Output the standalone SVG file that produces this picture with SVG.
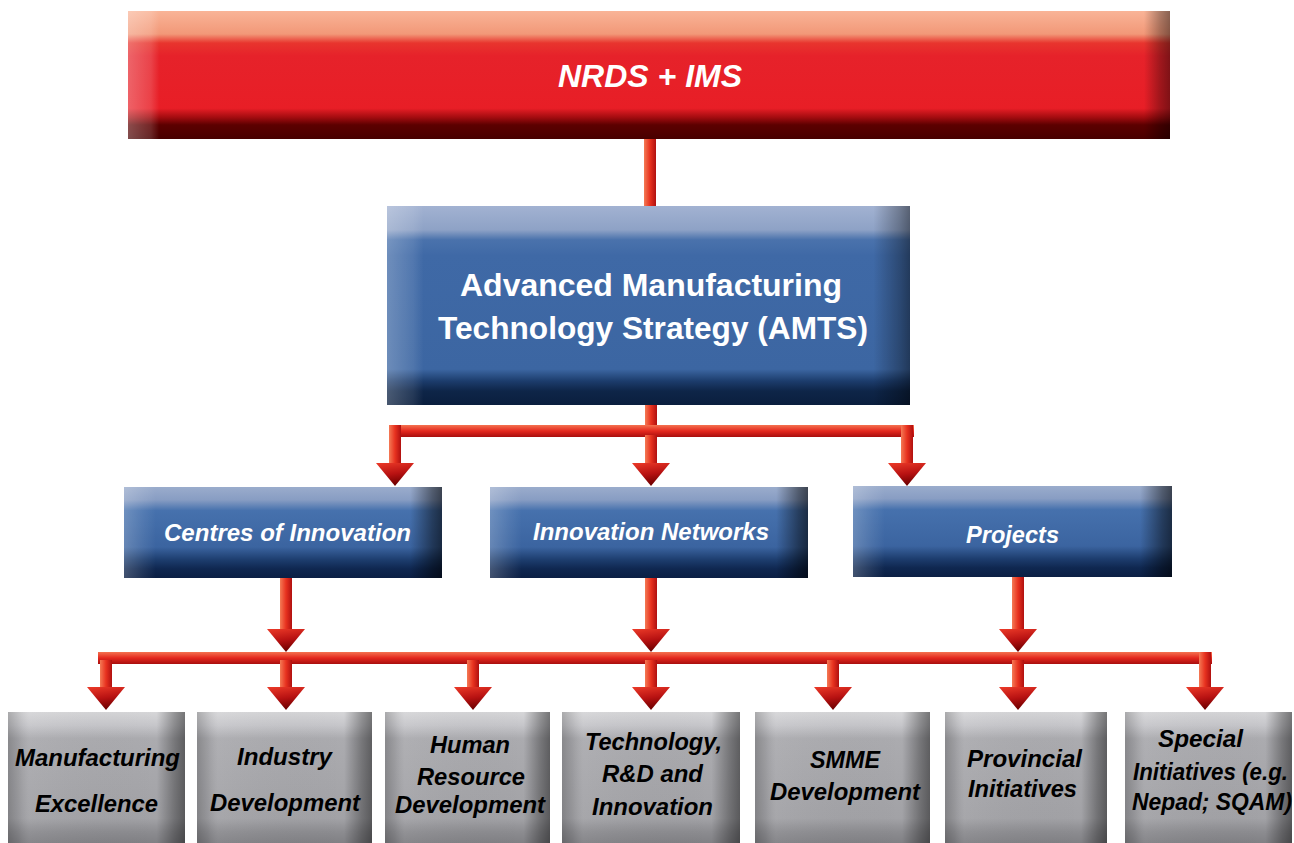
<svg xmlns="http://www.w3.org/2000/svg" xmlns:xlink="http://www.w3.org/1999/xlink" width="1294" height="843" viewBox="0 0 1294 843">
  <defs>
    <linearGradient id="redV" x1="0" y1="0" x2="0" y2="1">
      <stop offset="0" stop-color="#f9b497"/>
      <stop offset="0.18" stop-color="#f29878"/>
      <stop offset="0.25" stop-color="#e8352e"/>
      <stop offset="0.35" stop-color="#e6222a"/>
      <stop offset="0.76" stop-color="#e81e26"/>
      <stop offset="0.83" stop-color="#a40c10"/>
      <stop offset="0.89" stop-color="#5c0000"/>
      <stop offset="1" stop-color="#480000"/>
    </linearGradient>
    <linearGradient id="redH" x1="0" y1="0" x2="1" y2="0">
      <stop offset="0" stop-color="#ffffff" stop-opacity="0.3"/>
      <stop offset="0.022" stop-color="#ffffff" stop-opacity="0.15"/>
      <stop offset="0.03" stop-color="#ffffff" stop-opacity="0"/>
      <stop offset="0.975" stop-color="#000000" stop-opacity="0"/>
      <stop offset="0.99" stop-color="#000000" stop-opacity="0.3"/>
      <stop offset="1" stop-color="#000000" stop-opacity="0.45"/>
    </linearGradient>
    <linearGradient id="blueV" x1="0" y1="0" x2="0" y2="1">
      <stop offset="0" stop-color="#a2b2d2"/>
      <stop offset="0.12" stop-color="#8ea2c6"/>
      <stop offset="0.17" stop-color="#4a72ac"/>
      <stop offset="0.25" stop-color="#3f69a6"/>
      <stop offset="0.82" stop-color="#3c66a2"/>
      <stop offset="0.88" stop-color="#1c3c6c"/>
      <stop offset="0.93" stop-color="#0e2548"/>
      <stop offset="1" stop-color="#0a1e3e"/>
    </linearGradient>
    <linearGradient id="blueH" x1="0" y1="0" x2="1" y2="0">
      <stop offset="0" stop-color="#ffffff" stop-opacity="0.25"/>
      <stop offset="0.05" stop-color="#ffffff" stop-opacity="0.1"/>
      <stop offset="0.07" stop-color="#ffffff" stop-opacity="0"/>
      <stop offset="0.93" stop-color="#000000" stop-opacity="0"/>
      <stop offset="0.98" stop-color="#000000" stop-opacity="0.3"/>
      <stop offset="1" stop-color="#000000" stop-opacity="0.45"/>
    </linearGradient>
    <linearGradient id="blue2V" x1="0" y1="0" x2="0" y2="1">
      <stop offset="0" stop-color="#9aaccc"/>
      <stop offset="0.14" stop-color="#889dc3"/>
      <stop offset="0.26" stop-color="#4671ad"/>
      <stop offset="0.66" stop-color="#3b64a0"/>
      <stop offset="0.8" stop-color="#1d3d6e"/>
      <stop offset="0.9" stop-color="#0f2750"/>
      <stop offset="1" stop-color="#0b1f44"/>
    </linearGradient>
    <linearGradient id="blue2H" x1="0" y1="0" x2="1" y2="0">
      <stop offset="0" stop-color="#ffffff" stop-opacity="0.22"/>
      <stop offset="0.06" stop-color="#ffffff" stop-opacity="0.08"/>
      <stop offset="0.1" stop-color="#ffffff" stop-opacity="0"/>
      <stop offset="0.9" stop-color="#000000" stop-opacity="0"/>
      <stop offset="0.97" stop-color="#000000" stop-opacity="0.45"/>
      <stop offset="1" stop-color="#000000" stop-opacity="0.6"/>
    </linearGradient>
    <linearGradient id="greyV" x1="0" y1="0" x2="0" y2="1">
      <stop offset="0" stop-color="#d6d6d8"/>
      <stop offset="0.1" stop-color="#c6c6ca"/>
      <stop offset="0.2" stop-color="#ababaf"/>
      <stop offset="0.8" stop-color="#a2a2a6"/>
      <stop offset="0.9" stop-color="#8c8c90"/>
      <stop offset="1" stop-color="#7e7e82"/>
    </linearGradient>
    <linearGradient id="greyH" x1="0" y1="0" x2="1" y2="0">
      <stop offset="0" stop-color="#000000" stop-opacity="0.2"/>
      <stop offset="0.06" stop-color="#000000" stop-opacity="0.08"/>
      <stop offset="0.12" stop-color="#ffffff" stop-opacity="0.05"/>
      <stop offset="0.84" stop-color="#000000" stop-opacity="0"/>
      <stop offset="0.94" stop-color="#000000" stop-opacity="0.3"/>
      <stop offset="1" stop-color="#000000" stop-opacity="0.45"/>
    </linearGradient>
    <linearGradient id="barV" x1="0" y1="0" x2="1" y2="0">
      <stop offset="0" stop-color="#f47a55"/>
      <stop offset="0.5" stop-color="#e8321f"/>
      <stop offset="1" stop-color="#b01010"/>
    </linearGradient>
    <linearGradient id="barH" x1="0" y1="0" x2="0" y2="1">
      <stop offset="0" stop-color="#f47250"/>
      <stop offset="0.5" stop-color="#e4281e"/>
      <stop offset="1" stop-color="#a80e0e"/>
    </linearGradient>
    <linearGradient id="headG" x1="0" y1="0" x2="0.25" y2="1">
      <stop offset="0" stop-color="#ec3a28"/>
      <stop offset="0.55" stop-color="#b81212"/>
      <stop offset="1" stop-color="#700000"/>
    </linearGradient>
    <polygon id="head" points="-19,0 19,0 0,23" fill="url(#headG)"/>
    <style>
      .vbar { fill: url(#barV); }
      .hbar { fill: url(#barH); }
      .t { font-family: "Liberation Sans", Arial, sans-serif; font-weight: bold; text-anchor: middle; }
      .w { fill: #ffffff; }
      .k { fill: #000000; }
      .i { font-style: italic; }
    </style>
  </defs>

  <rect x="0" y="0" width="1294" height="843" fill="#ffffff"/>

  <g id="connectors">
    <rect class="vbar" x="644" y="136" width="12" height="72"/>
    <rect class="vbar" x="645" y="403" width="12" height="24"/>
    <rect class="hbar" x="389" y="425" width="525" height="12"/>
    <rect class="vbar" x="389" y="425" width="12" height="39"/>
    <rect class="vbar" x="645" y="435" width="12" height="29"/>
    <rect class="vbar" x="901" y="425" width="12" height="39"/>
    <use xlink:href="#head" x="395" y="463"/>
    <use xlink:href="#head" x="651" y="463"/>
    <use xlink:href="#head" x="907" y="463"/>

    <rect class="vbar" x="280" y="576" width="12" height="55"/>
    <rect class="vbar" x="645" y="576" width="12" height="55"/>
    <rect class="vbar" x="1012" y="576" width="12" height="55"/>
    <use xlink:href="#head" x="286" y="629"/>
    <use xlink:href="#head" x="651" y="629"/>
    <use xlink:href="#head" x="1018" y="629"/>

    <rect class="hbar" x="98" y="652" width="1114" height="12"/>
    <rect class="vbar" x="100" y="660" width="12" height="28"/>
    <rect class="vbar" x="280" y="660" width="12" height="28"/>
    <rect class="vbar" x="467" y="660" width="12" height="28"/>
    <rect class="vbar" x="645" y="660" width="12" height="28"/>
    <rect class="vbar" x="827" y="660" width="12" height="28"/>
    <rect class="vbar" x="1012" y="660" width="12" height="28"/>
    <rect class="vbar" x="1199" y="652" width="12" height="36"/>
    <use xlink:href="#head" x="106" y="687"/>
    <use xlink:href="#head" x="286" y="687"/>
    <use xlink:href="#head" x="473" y="687"/>
    <use xlink:href="#head" x="651" y="687"/>
    <use xlink:href="#head" x="833" y="687"/>
    <use xlink:href="#head" x="1018" y="687"/>
    <use xlink:href="#head" x="1205" y="687"/>
  </g>

  <g id="node-nrds">
    <rect x="128" y="11" width="1042" height="128" fill="url(#redV)"/>
    <rect x="128" y="11" width="1042" height="128" fill="url(#redH)"/>
    <text class="t w i" x="650" y="87" font-size="32">NRDS + IMS</text>
  </g>

  <g id="node-amts">
    <rect x="387" y="206" width="523" height="199" fill="url(#blueV)"/>
    <rect x="387" y="206" width="523" height="199" fill="url(#blueH)"/>
    <text class="t w" x="651" y="296" font-size="30.5" textLength="382" lengthAdjust="spacingAndGlyphs">Advanced Manufacturing</text>
    <text class="t w" x="653" y="339" font-size="30.5" textLength="430" lengthAdjust="spacingAndGlyphs">Technology Strategy (AMTS)</text>
  </g>

  <g id="node-centres">
    <rect x="124" y="487" width="318" height="91" fill="url(#blue2V)"/>
    <rect x="124" y="487" width="318" height="91" fill="url(#blue2H)"/>
    <text class="t w i" x="287.5" y="541" font-size="23" textLength="247" lengthAdjust="spacingAndGlyphs">Centres of Innovation</text>
  </g>

  <g id="node-networks">
    <rect x="490" y="487" width="318" height="91" fill="url(#blue2V)"/>
    <rect x="490" y="487" width="318" height="91" fill="url(#blue2H)"/>
    <text class="t w i" x="651" y="540" font-size="23" textLength="236" lengthAdjust="spacingAndGlyphs">Innovation Networks</text>
  </g>

  <g id="node-projects">
    <rect x="853" y="486" width="319" height="91" fill="url(#blue2V)"/>
    <rect x="853" y="486" width="319" height="91" fill="url(#blue2H)"/>
    <text class="t w i" x="1012.5" y="543" font-size="23" textLength="93" lengthAdjust="spacingAndGlyphs">Projects</text>
  </g>

  <g id="node-manufacturing">
    <rect x="8" y="712" width="177" height="133" fill="url(#greyV)"/>
    <rect x="8" y="712" width="177" height="133" fill="url(#greyH)"/>
    <text class="t k i" x="97.5" y="766" font-size="23" textLength="165" lengthAdjust="spacingAndGlyphs">Manufacturing</text>
    <text class="t k i" x="96.5" y="812" font-size="23" textLength="123" lengthAdjust="spacingAndGlyphs">Excellence</text>
  </g>

  <g id="node-industry">
    <rect x="197" y="712" width="175" height="133" fill="url(#greyV)"/>
    <rect x="197" y="712" width="175" height="133" fill="url(#greyH)"/>
    <text class="t k i" x="284.5" y="765" font-size="23" textLength="95" lengthAdjust="spacingAndGlyphs">Industry</text>
    <text class="t k i" x="285" y="811" font-size="23" textLength="150" lengthAdjust="spacingAndGlyphs">Development</text>
  </g>

  <g id="node-hrd">
    <rect x="385" y="712" width="165" height="133" fill="url(#greyV)"/>
    <rect x="385" y="712" width="165" height="133" fill="url(#greyH)"/>
    <text class="t k i" x="470" y="753" font-size="23" textLength="80" lengthAdjust="spacingAndGlyphs">Human</text>
    <text class="t k i" x="471" y="785" font-size="23" textLength="108" lengthAdjust="spacingAndGlyphs">Resource</text>
    <text class="t k i" x="470" y="813" font-size="23" textLength="150" lengthAdjust="spacingAndGlyphs">Development</text>
  </g>

  <g id="node-technology">
    <rect x="562" y="712" width="178" height="133" fill="url(#greyV)"/>
    <rect x="562" y="712" width="178" height="133" fill="url(#greyH)"/>
    <text class="t k i" x="653.5" y="750" font-size="23" textLength="137" lengthAdjust="spacingAndGlyphs">Technology,</text>
    <text class="t k i" x="652.5" y="782" font-size="23" textLength="101" lengthAdjust="spacingAndGlyphs">R&amp;D and</text>
    <text class="t k i" x="652.5" y="815" font-size="23" textLength="121" lengthAdjust="spacingAndGlyphs">Innovation</text>
  </g>

  <g id="node-smme">
    <rect x="755" y="712" width="175" height="133" fill="url(#greyV)"/>
    <rect x="755" y="712" width="175" height="133" fill="url(#greyH)"/>
    <text class="t k i" x="845" y="768" font-size="23" textLength="70" lengthAdjust="spacingAndGlyphs">SMME</text>
    <text class="t k i" x="845" y="800" font-size="23" textLength="150" lengthAdjust="spacingAndGlyphs">Development</text>
  </g>

  <g id="node-provincial">
    <rect x="945" y="712" width="162" height="133" fill="url(#greyV)"/>
    <rect x="945" y="712" width="162" height="133" fill="url(#greyH)"/>
    <text class="t k i" x="1024.5" y="767" font-size="23" textLength="115" lengthAdjust="spacingAndGlyphs">Provincial</text>
    <text class="t k i" x="1022.5" y="797" font-size="23" textLength="109" lengthAdjust="spacingAndGlyphs">Initiatives</text>
  </g>

  <g id="node-special">
    <rect x="1125" y="712" width="167" height="133" fill="url(#greyV)"/>
    <rect x="1125" y="712" width="167" height="133" fill="url(#greyH)"/>
    <text class="t k i" x="1200.5" y="747" font-size="23" textLength="85" lengthAdjust="spacingAndGlyphs">Special</text>
    <text class="t k i" x="1210.5" y="780" font-size="23" textLength="155" lengthAdjust="spacingAndGlyphs">Initiatives (e.g.</text>
    <text class="t k i" x="1212" y="810" font-size="23" textLength="160" lengthAdjust="spacingAndGlyphs">Nepad; SQAM)</text>
  </g>
</svg>
